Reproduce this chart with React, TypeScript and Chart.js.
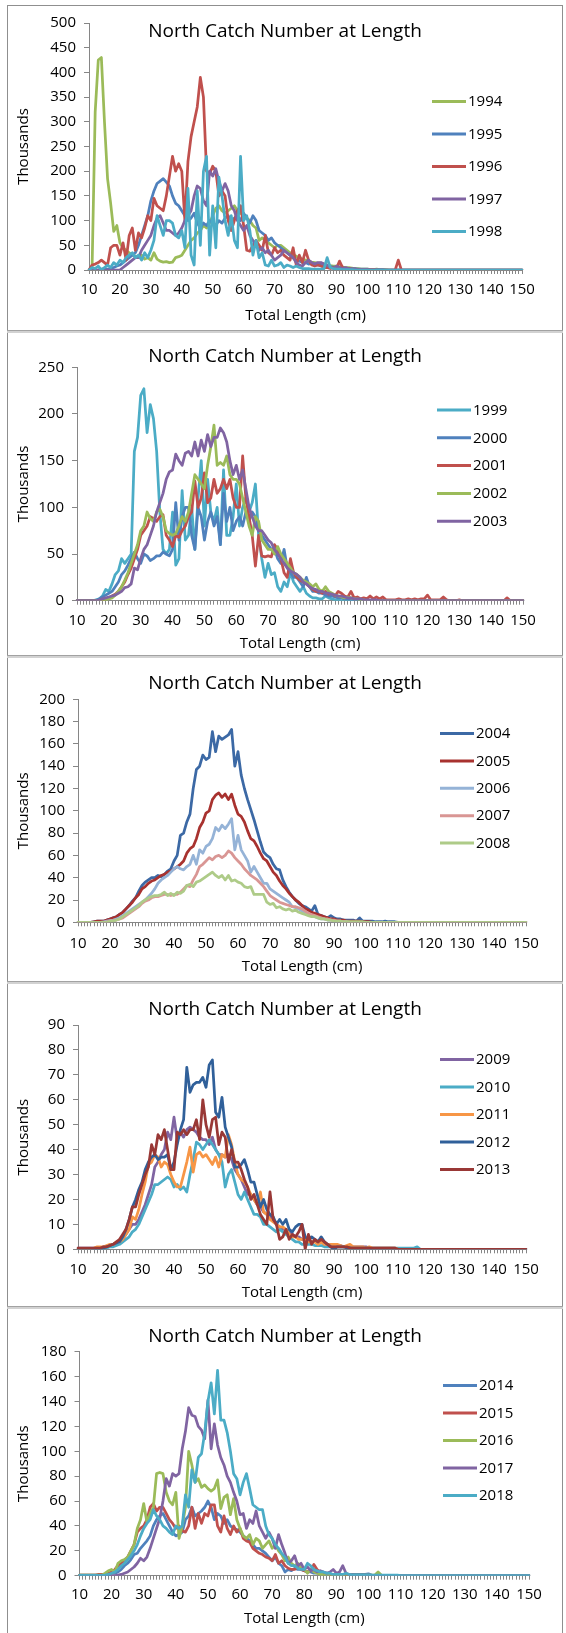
import React, { useEffect, useRef } from 'react';
import { Chart, registerables } from 'chart.js';

Chart.register(...registerables);

const FONT = "'Open Sans', 'DejaVu Sans', sans-serif";
const AXIS = '#868686';
const TITLE = 'North Catch Number at Length';
const X_TITLE = 'Total Length (cm)';
const Y_TITLE = 'Thousands';

// Length categories (cm)
const LENGTHS = [
  10, 11, 12, 13, 14, 15, 16, 17, 18, 19,
  20, 21, 22, 23, 24, 25, 26, 27, 28, 29,
  30, 31, 32, 33, 34, 35, 36, 37, 38, 39,
  40, 41, 42, 43, 44, 45, 46, 47, 48, 49,
  50, 51, 52, 53, 54, 55, 56, 57, 58, 59,
  60, 61, 62, 63, 64, 65, 66, 67, 68, 69,
  70, 71, 72, 73, 74, 75, 76, 77, 78, 79,
  80, 81, 82, 83, 84, 85, 86, 87, 88, 89,
  90, 91, 92, 93, 94, 95, 96, 97, 98, 99,
  100, 101, 102, 103, 104, 105, 106, 107, 108, 109,
  110, 111, 112, 113, 114, 115, 116, 117, 118, 119,
  120, 121, 122, 123, 124, 125, 126, 127, 128, 129,
  130, 131, 132, 133, 134, 135, 136, 137, 138, 139,
  140, 141, 142, 143, 144, 145, 146, 147, 148, 149,
  150,
];
const X_TICK_LABELS = [10, 20, 30, 40, 50, 60, 70, 80, 90, 100, 110, 120, 130, 140, 150];

const Y_MAX = [500, 250, 200, 90, 180];
const Y_STEP = [50, 50, 20, 10, 20];

// ---------- Panel 1 ----------
const YEARS_1 = ['1994', '1995', '1996', '1997', '1998'];
const N1994 = [
  0,5,320,425,430,300,185,135,78,90,
  55,45,40,35,30,28,25,30,22,25,
  20,35,22,18,16,17,15,16,25,27,
  30,40,50,60,65,75,80,90,85,95,
  110,125,130,120,115,120,125,130,120,115,
  110,105,100,90,85,60,65,60,55,50,
  45,50,50,45,40,35,30,28,25,22,
  20,18,16,15,14,14,12,10,9,8,
  8,7,6,5,5,4,3,3,2,2,
  2,1,1,2,1,1,1,0,0,0,
  0,0,0,0,0,0,0,0,0,0,
  0,0,0,0,0,0,0,0,0,0,
  0,0,0,0,0,0,0,0,0,0,
  0,0,0,0,0,0,0,0,0,0,
  0,
];
const N1995 = [
  0,0,0,0,2,3,2,3,5,8,
  10,15,20,25,30,35,50,70,90,110,
  140,160,175,180,185,178,170,150,135,130,
  120,110,100,105,115,95,85,95,90,100,
  95,90,100,95,105,110,100,105,110,100,
  115,105,95,110,100,80,75,70,60,65,
  55,50,45,40,35,30,25,20,18,15,
  15,12,14,12,10,10,8,8,7,6,
  5,5,4,4,3,3,3,2,2,2,
  2,1,1,1,1,1,0,0,0,0,
  0,0,0,0,0,0,0,0,0,0,
  0,0,0,0,0,0,0,0,0,0,
  0,0,0,0,0,0,0,0,0,0,
  0,0,0,0,0,0,0,0,0,0,
  0,
];
const N1996 = [
  0,10,12,15,20,15,10,45,50,50,
  30,55,20,70,85,40,75,65,85,110,
  100,145,130,125,120,150,190,230,200,215,
  200,100,220,270,300,330,390,350,200,195,
  210,200,150,160,150,100,80,100,120,130,
  90,40,38,50,60,50,40,70,35,30,
  45,35,40,30,25,20,45,10,30,15,
  40,20,10,8,10,8,5,5,3,5,
  3,18,5,3,3,2,2,1,1,1,
  1,1,1,0,0,0,0,0,0,0,
  20,0,0,0,0,0,0,0,0,0,
  0,0,0,0,0,0,0,0,0,0,
  0,0,0,0,0,0,0,0,0,0,
  0,0,0,0,0,0,0,0,0,0,
  0,
];
const N1997 = [
  0,0,0,0,0,0,0,0,0,0,
  0,5,10,15,20,25,25,40,50,60,
  70,90,105,110,95,80,80,75,70,75,
  85,100,110,120,150,170,165,140,130,200,
  190,205,180,160,175,160,130,120,100,90,
  80,90,70,60,50,40,45,35,40,30,
  20,25,30,40,35,30,25,15,10,8,
  15,20,15,12,15,15,12,10,5,3,
  8,5,3,5,3,2,2,1,1,1,
  1,0,0,0,0,0,0,0,0,0,
  0,0,0,0,0,0,0,0,0,0,
  0,0,0,0,0,0,0,0,0,0,
  0,0,0,0,0,0,0,0,0,0,
  0,0,0,0,0,0,0,0,0,0,
  0,
];
const N1998 = [
  0,5,3,8,0,5,10,5,15,10,
  20,15,25,30,35,25,30,20,35,25,
  40,60,110,90,70,100,100,95,70,65,
  80,45,165,30,10,160,50,200,230,30,
  130,45,188,150,100,70,110,60,45,230,
  100,110,80,30,60,25,35,10,8,20,
  8,10,15,5,10,8,5,8,5,3,
  3,3,2,2,2,2,3,25,5,3,
  2,2,1,1,1,1,0,0,0,0,
  0,0,0,0,0,0,0,0,0,0,
  0,0,0,0,0,0,0,0,0,0,
  0,0,0,0,0,0,0,0,0,0,
  0,0,0,0,0,0,0,0,0,0,
  0,0,0,0,0,0,0,0,0,0,
  0,
];

// ---------- Panel 2 ----------
const YEARS_2 = ['1999', '2000', '2001', '2002', '2003'];
const N1999 = [
  0,0,0,0,0,0,1,2,5,12,
  10,18,28,32,45,40,45,50,160,175,
  220,227,180,210,195,160,95,55,50,55,
  95,38,45,118,65,70,100,55,110,150,
  80,130,95,85,100,60,140,70,70,90,
  125,80,100,110,95,105,125,70,45,25,
  40,28,30,15,10,20,15,30,20,15,
  10,15,8,5,3,3,2,2,5,3,
  2,1,1,0,0,0,0,0,0,0,
  0,0,0,0,0,0,0,0,0,0,
  0,0,0,0,0,0,0,0,0,0,
  0,0,0,0,0,0,0,0,0,0,
  0,0,0,0,0,0,0,0,0,0,
  0,0,0,0,0,0,0,0,0,0,
  0,
];
const N2000 = [
  0,0,0,0,0,0,0,2,4,6,
  8,10,15,20,28,32,38,45,52,45,
  40,50,48,43,45,48,48,52,50,48,
  55,105,65,90,100,100,70,55,100,90,
  65,85,95,80,90,60,115,85,100,75,
  85,90,80,95,85,95,90,75,70,65,
  60,55,55,45,40,55,35,30,25,25,
  20,15,25,15,10,10,8,8,6,5,
  5,4,3,3,2,2,2,1,1,1,
  1,0,0,0,0,0,0,0,0,0,
  0,0,0,0,0,0,0,0,0,0,
  0,0,0,0,0,0,0,0,0,0,
  0,0,0,0,0,0,0,0,0,0,
  0,0,0,0,0,0,0,0,0,0,
  0,
];
const N2001 = [
  0,0,0,0,0,0,0,0,1,2,
  3,5,7,10,15,20,28,35,45,55,
  70,75,80,90,88,85,90,92,70,65,
  58,70,68,75,80,90,95,128,100,110,
  137,105,110,130,115,120,130,120,130,110,
  100,100,155,110,90,70,37,70,48,47,
  48,47,60,55,45,30,25,45,30,25,
  22,20,18,15,12,10,10,8,10,7,
  8,5,10,8,5,4,10,3,4,2,
  3,2,5,2,4,2,4,1,1,1,
  1,2,1,1,2,1,2,1,2,2,
  6,1,1,1,1,4,1,0,0,0,
  1,0,0,0,0,0,0,0,0,0,
  0,0,0,0,0,3,0,0,0,0,
  0,
];
const N2002 = [
  0,0,0,0,0,0,0,0,0,1,
  2,3,6,10,15,22,30,40,50,60,
  75,80,95,88,85,95,98,90,75,72,
  70,72,80,90,85,95,115,135,130,125,
  120,145,165,188,145,148,145,155,135,130,
  130,125,110,95,80,70,90,85,65,60,
  55,55,50,58,50,45,40,35,30,28,
  25,22,20,18,15,18,12,10,15,10,
  8,6,5,4,3,4,3,2,2,1,
  1,0,0,0,0,0,0,0,0,0,
  0,0,0,0,0,0,0,0,0,0,
  0,0,0,0,0,0,0,0,0,0,
  0,0,0,0,0,0,0,0,0,0,
  0,0,0,0,0,0,0,0,0,0,
  0,
];
const N2003 = [
  0,0,0,0,0,0,0,1,2,3,
  4,5,6,8,10,14,15,18,35,33,
  45,55,60,70,80,95,105,115,130,138,
  140,157,150,145,158,160,155,170,155,172,
  160,178,165,175,175,185,180,170,150,135,
  145,130,140,120,100,90,80,75,75,70,
  65,62,55,50,45,40,35,32,30,28,
  25,20,18,15,13,12,10,10,8,8,
  7,6,5,5,4,3,3,2,2,2,
  1,1,1,1,1,0,0,0,0,0,
  0,0,0,0,0,0,0,0,0,0,
  0,0,0,0,0,0,0,0,0,0,
  0,0,0,0,0,0,0,0,0,0,
  0,0,0,0,0,0,0,0,0,0,
  0,
];

// ---------- Panel 3 ----------
const YEARS_3 = ['2004', '2005', '2006', '2007', '2008'];
const N2004 = [
  0,0,0,0,0,0.5,1,1,1,2,
  3,4,5,7,9,12,15,19,22,28,
  33,36,38,40,40,42,41,43,46,48,
  55,60,78,80,90,97,120,137,140,150,
  146,148,171,153,167,164,166,168,173,140,
  153,132,120,110,101,92,82,72,63,60,
  58,52,48,47,38,32,27,23,20,17,
  15,14,12,10,15,7,6,5,4,6,
  4,3,3,2,2,2,2,1,4,1,
  1,1,1,0.5,0.5,0.5,1,0.5,0.5,0.5,
  0,0,0,0,0,0,0,0,0,0,
  0,0,0,0,0,0,0,0,0,0,
  0,0,0,0,0,0,0,0,0,0,
  0,0,0,0,0,0,0,0,0,0,
  0,
];
const N2005 = [
  0,0,0,0,0,0.5,1,1,1,2,
  3,4,5,7,9,12,15,18,22,25,
  30,32,35,37,38,40,42,43,45,46,
  48,50,52,55,62,66,68,75,85,90,
  98,100,110,114,116,112,115,110,115,105,
  97,95,90,82,75,73,68,62,57,55,
  50,45,42,37,33,30,26,23,20,18,
  15,12,11,9,8,7,6,5,4,3,
  3,2,2,2,1,1,1,1,1,0.5,
  0.5,0.5,0,0,0,0,0,0,0,0,
  0,0,0,0,0,0,0,0,0,0,
  0,0,0,0,0,0,0,0,0,0,
  0,0,0,0,0,0,0,0,0,0,
  0,0,0,0,0,0,0,0,0,0,
  0,
];
const N2006 = [
  0,0,0,0,0,0,0,0,0.5,1,
  1.5,2,3,4,6,8,10,12,14,16,
  18,20,23,26,30,35,38,40,42,45,
  48,50,48,47,50,52,60,52,65,62,
  68,70,75,85,82,87,84,88,93,65,
  78,65,60,55,45,50,45,40,35,35,
  30,28,26,24,22,20,18,14,13,12,
  10,9,8,6,5,4,3,3,2,2,
  1,1,1,0.5,0.5,0,0,0,0,0,
  0,0,0,0,0,0,0,0,0,0,
  0,0,0,0,0,0,0,0,0,0,
  0,0,0,0,0,0,0,0,0,0,
  0,0,0,0,0,0,0,0,0,0,
  0,0,0,0,0,0,0,0,0,0,
  0,
];
const N2007 = [
  0,0,0,0,0,0,0,0,0,0.5,
  1,1.5,2,3,4,6,8,10,12,14,
  17,19,20,22,23,23,24,25,25,24,
  25,25,27,30,33,32,38,43,50,52,
  55,58,56,59,60,58,60,64,62,58,
  55,52,48,45,42,40,38,35,32,28,
  24,22,20,18,17,16,15,14,14,13,
  12,10,8,7,6,5,4,3,3,2,
  2,1,1,0.5,0.5,0,0,0,0,0,
  0,0,0,0,0,0,0,0,0,0,
  0,0,0,0,0,0,0,0,0,0,
  0,0,0,0,0,0,0,0,0,0,
  0,0,0,0,0,0,0,0,0,0,
  0,0,0,0,0,0,0,0,0,0,
  0,
];
const N2008 = [
  0,0,0,0,0,0,0,0,0,0,
  1,1,2,3,5,7,9,11,13,15,
  18,20,22,23,24,24,25,27,24,26,
  24,27,26,28,33,34,32,36,37,39,
  41,43,45,42,40,42,38,42,37,38,
  36,35,32,31,32,25,25,25,25,18,
  16,17,13,14,12,11,12,10,11,9,
  8,7,6,5,5,4,3,3,2,2,
  1,1,1,0.5,0.5,0.5,0.5,0.5,0.5,0.5,
  0,0,0,0,0,0,0,0,0,0,
  0,0,0,0,0,0,0,0,0,0,
  0,0,0,0,0,0,0,0,0,0,
  0,0,0,0,0,0,0,0,0,0,
  0,0,0,0,0,0,0,0,0,0,
  0,
];

// ---------- Panel 4 ----------
const YEARS_4 = ['2009', '2010', '2011', '2012', '2013'];
const N2009 = [
  0.5,0.5,0.5,0.5,0.5,0.5,0.5,0.5,1,1,
  1.5,2,2.5,3,4,6,8,10,10,12,
  15,18,22,26,33,35,38,40,47,44,
  53,44,47,45,48,49,48,47,45,44,
  44,42,45,40,38,38,37,38,36,32,
  30,28,25,22,22,20,18,17,15,14,
  13,12,10,9,8,8,7,6,5,5,
  4,4,4,3,3,3,3,2,2,2,
  2,1.5,1.5,1,1,1,1,1,1,1,
  1,0.5,0.5,0.5,0.5,0.5,0.5,0.5,0.5,0.5,
  0,0,0,0,0,0,0,0,0,0,
  0,0,0,0,0,0,0,0,0,0,
  0,0,0,0,0,0,0,0,0,0,
  0,0,0,0,0,0,0,0,0,0,
  0,
];
const N2010 = [
  0,0,0,0,0,0,0,0,0,0.5,
  1,1,1.5,2,3,4,5,7,8,10,
  13,16,19,22,26,26,27,28,29,28,
  25,26,24,25,23,30,36,43,42,40,
  42,44,42,40,38,35,25,30,32,27,
  22,20,23,20,17,14,14,13,10,10,
  9,8,7,8,7,6,5,4,3,3,
  2,2,2,2,1.5,1.5,1.5,1,1,1,
  1,1,1,1,1,0.5,0.5,0.5,0.5,0.5,
  0.5,0.5,0.5,0.5,0.5,0.5,0.5,0.5,0.5,0.5,
  0.5,0.5,0.5,0.5,0.5,0.5,1,0,0,0,
  0,0,0,0,0,0,0,0,0,0,
  0,0,0,0,0,0,0,0,0,0,
  0,0,0,0,0,0,0,0,0,0,
  0,
];
const N2011 = [
  0.3,0.3,0.3,0.3,0.3,0.5,1,1,1,1.5,
  2,2,3,3,4,6,8,13,12,16,
  22,27,34,35,38,37,33,35,34,30,
  27,25,25,30,35,41,31,38,39,37,
  38,36,34,37,33,38,37,46,42,35,
  30,28,27,25,22,20,18,23,15,14,
  12,11,10,9,9,8,6,5,5,4,
  4,4,3,3,3,2,3,2,2,2,
  2,2,1.5,1,1.5,2,1,1,1,1,
  0.5,1,0.5,0.5,0.5,0.5,0.5,0.5,0.5,0.5,
  0,0,0,0,0,0,0,0,0,0,
  0,0,0,0,0,0,0,0,0,0,
  0,0,0,0,0,0,0,0,0,0,
  0,0,0,0,0,0,0,0,0,0,
  0,
];
const N2012 = [
  0.3,0.3,0.3,0.3,0.3,0.3,0.3,0.3,0.5,1,
  1.5,2,2.5,3,5,8,12,17,20,24,
  27,32,35,37,38,36,37,37,38,32,
  35,42,48,52,73,63,66,67,67,69,
  65,74,76,55,53,61,49,45,41,33,
  33,34,36,32,27,27,22,17,20,16,
  14,13,10,12,10,12,8,7,9,10,
  10,5,4,5,4,3,5,3,2,1,
  0,1,1,1,0.5,0.5,0.5,0.5,0.5,0.5,
  0.5,0.5,0,0,0,0,0,0,0,0,
  0,0,0,0,0,0,0,0,0,0,
  0,0,0,0,0,0,0,0,0,0,
  0,0,0,0,0,0,0,0,0,0,
  0,0,0,0,0,0,0,0,0,0,
  0,
];
const N2013 = [
  0.5,0.5,0.5,0.5,0.5,0.5,0.5,0.5,1,1,
  1.5,2,3,4,6,8,12,17,17,22,
  26,30,33,42,38,46,44,48,40,32,
  32,47,46,48,46,48,48,52,44,60,
  50,45,52,53,42,47,45,35,40,35,
  35,32,28,25,20,22,18,14,12,10,
  23,12,10,4,5,8,4,6,5,7,
  10,0,6,2,4,3,4,3,2,1,
  1,1,1,1,1,0.5,0.5,0.5,0.5,0.5,
  0.5,0.5,0.5,0.5,0.5,0.5,0.5,0.5,0.5,0.5,
  0,0,0,0,0,0,0,0,0,0,
  0,0,0,0,0,0,0,0,0,0,
  0,0,0,0,0,0,0,0,0,0,
  0,0,0,0,0,0,0,0,0,0,
  0,
];

// ---------- Panel 5 ----------
const YEARS_5 = ['2014', '2015', '2016', '2017', '2018'];
const N2014 = [
  0.5,0.5,0.5,0.5,0.5,0.5,0.5,0.5,1,1,
  2,2,3,5,8,10,13,17,18,22,
  25,28,32,40,45,48,50,45,40,35,
  32,33,35,45,48,55,48,50,52,55,
  60,55,45,50,48,42,45,40,38,37,
  35,32,30,28,25,22,22,20,18,15,
  12,15,10,8,3,5,4,6,5,5,
  4,3,3,2,2,2,2,1,1,1,
  1,1,1,1,1,1,1,1,1,1,
  1.5,0.5,0,0,0,0,0,0,0,0,
  0,0,0,0,0,0,0,0,0,0,
  0,0,0,0,0,0,0,0,0,0,
  0,0,0,0,0,0,0,0,0,0,
  0,0,0,0,0,0,0,0,0,0,
  0,
];
const N2015 = [
  0.5,0.5,0.5,0.5,0.5,0.5,1,1,1,2,
  3,5,8,10,12,15,20,25,35,38,
  40,45,55,58,52,55,55,50,45,42,
  38,40,36,35,40,55,38,50,42,50,
  48,57,57,40,35,48,38,33,40,35,
  38,30,28,27,22,20,18,17,15,14,
  12,17,10,12,8,6,5,5,7,5,
  4,3,4,9,5,3,2,2,1,1,
  1,1,0.5,0,0,0,0,0,0,0,
  0,0,0,0,0,0,0,0,0,0,
  0,0,0,0,0,0,0,0,0,0,
  0,0,0,0,0,0,0,0,0,0,
  0,0,0,0,0,0,0,0,0,0,
  0,0,0,0,0,0,0,0,0,0,
  0,
];
const N2016 = [
  0.5,0.5,0.5,0.5,0.5,0.5,0.5,0.5,2,4,
  5,3,10,12,13,15,20,25,38,45,
  58,43,50,55,82,83,82,67,60,57,
  67,30,40,55,100,89,75,78,71,73,
  70,68,70,77,54,63,65,49,62,45,
  38,32,30,33,25,30,28,22,25,28,
  22,25,20,17,12,15,10,8,10,6,
  5,2,5,3,2,1,1,1,1,1,
  1,1,1,1,1,0.5,0.5,0.5,0.5,0.5,
  0.5,0.5,0.5,3,0.5,0,0,0,0,0,
  0,0,0,0,0,0,0,0,0,0,
  0,0,0,0,0,0,0,0,0,0,
  0,0,0,0,0,0,0,0,0,0,
  0,0,0,0,0,0,0,0,0,0,
  0,
];
const N2017 = [
  0,0,0,0,0,0,0,0,0,0,
  0,0,0.5,1,2,3,5,7,10,14,
  12,15,22,30,38,46,60,78,72,82,
  80,82,102,116,135,129,128,120,117,110,
  141,102,122,105,95,89,80,75,67,60,
  49,50,38,45,42,52,40,35,30,35,
  30,22,33,25,18,10,12,16,8,10,
  5,7,4,5,3,4,3,2,3,5,
  2,3,8,2,1,0.5,0,0,0,0,
  0,0,0,0,0,0,0,0,0,0,
  0,0,0,0,0,0,0,0,0,0,
  0,0,0,0,0,0,0,0,0,0,
  0,0,0,0,0,0,0,0,0,0,
  0,0,0,0,0,0,0,0,0,0,
  0,
];
const N2018 = [
  0.3,0.3,0.3,0.3,0.3,0.3,0.3,0.3,0.5,1,
  2,3,5,8,10,13,16,20,25,32,
  38,42,45,53,48,45,40,38,35,33,
  40,38,40,65,55,85,75,95,98,115,
  140,155,130,165,125,125,115,100,82,78,
  65,75,82,70,57,55,53,53,40,33,
  30,25,22,18,15,10,8,8,6,5,
  5,10,8,5,4,3,3,2,2,1,
  1,1,1,2,1,0.5,0.5,0.5,0.5,0.5,
  0.5,0.5,0.5,0.5,0.5,0.5,0.5,0.5,0.5,0.5,
  0,0,0,0,0,0,0,0,0,0,
  0,0,0,0,0,0,0,0,0,0,
  0,0,0,0,0,0,0,0,0,0,
  0,0,0,0,0,0,0,0,0,0,
  0,
];

const COLORS_1 = ['#9BBB59', '#4F81BD', '#C0504D', '#8064A2', '#4BACC6'];
const COLORS_2 = ['#4BACC6', '#4F81BD', '#C0504D', '#9BBB59', '#8064A2'];
const COLORS_3 = ['#3C69A5', '#A8322F', '#95B3D7', '#D99694', '#AECB88'];
const COLORS_4 = ['#8064A2', '#4BACC6', '#F79646', '#30609A', '#993836'];
const COLORS_5 = ['#4F81BD', '#C0504D', '#9BBB59', '#8064A2', '#4BACC6'];

type PanelDef = {
  boxTop: number; boxH: number;
  yMax: number; yStep: number;
  years: string[]; series: number[][]; colors: string[];
  axisX: number; lastX: number; plotTop: number; plotBottom: number;
  xLabelY: number; xTitleY: number; yTitleX: number; titleY: number;
  legendX: number; legendY: number; legendGap: number;
};

const CANVAS_W = 554;

const PANELS: PanelDef[] = [
  { boxTop: 6, boxH: 324, yMax: Y_MAX[0], yStep: Y_STEP[0], years: YEARS_1,
    series: [N1994, N1995, N1996, N1997, N1998], colors: COLORS_1,
    axisX: 81, lastX: 514, plotTop: 16.3, plotBottom: 264, xLabelY: 283.3, xTitleY: 309.5,
    yTitleX: 16, titleY: 25.5, legendX: 424, legendY: 95.5, legendGap: 32.5 },
  { boxTop: 333, boxH: 322, yMax: Y_MAX[1], yStep: Y_STEP[1], years: YEARS_2,
    series: [N1999, N2000, N2001, N2002, N2003], colors: COLORS_2,
    axisX: 69, lastX: 515, plotTop: 34.3, plotBottom: 267.7, xLabelY: 288, xTitleY: 310.7,
    yTitleX: 16, titleY: 23.8, legendX: 429, legendY: 77, legendGap: 27.8 },
  { boxTop: 658, boxH: 323, yMax: Y_MAX[2], yStep: Y_STEP[2], years: YEARS_3,
    series: [N2004, N2005, N2006, N2007, N2008], colors: COLORS_3,
    axisX: 70, lastX: 518, plotTop: 41.3, plotBottom: 264.3, xLabelY: 285.3, xTitleY: 308.7,
    yTitleX: 16, titleY: 25.8, legendX: 432, legendY: 75.5, legendGap: 27.4 },
  { boxTop: 984, boxH: 322, yMax: Y_MAX[3], yStep: Y_STEP[3], years: YEARS_4,
    series: [N2009, N2010, N2011, N2012, N2013], colors: COLORS_4,
    axisX: 70, lastX: 518, plotTop: 41, plotBottom: 265.3, xLabelY: 285.3, xTitleY: 308.3,
    yTitleX: 16, titleY: 25.8, legendX: 432, legendY: 75.5, legendGap: 27.5 },
  { boxTop: 1309, boxH: 324, yMax: Y_MAX[4], yStep: Y_STEP[4], years: YEARS_5,
    series: [N2014, N2015, N2016, N2017, N2018], colors: COLORS_5,
    axisX: 71.5, lastX: 521, plotTop: 42.7, plotBottom: 266.7, xLabelY: 286, xTitleY: 309.3,
    yTitleX: 16, titleY: 27.2, legendX: 435, legendY: 76.5, legendGap: 27.5 },
];

const SEPARATORS = [330, 655, 981, 1306];

function Panel({ def }: { def: PanelDef }) {
  const ref = useRef<HTMLCanvasElement>(null);
  useEffect(() => {
    const canvas = ref.current;
    if (!canvas) return;
    const W = CANVAS_W;
    const H = def.boxH;
    const fs = 15;
    const lh = fs * 1.2;
    const titleSize = 19;
    const titleLh = titleSize * 1.2;
    const tickFont = { family: FONT, size: fs };

    const placer = {
      id: 'placer',
      afterLayout(chart: any) {
        const t = chart.titleBlock;
        if (t) {
          t.left = 0; t.right = chart.width; t.width = chart.width;
          t.top = def.titleY - titleLh / 2; t.height = titleLh; t.bottom = t.top + titleLh;
        }
      },
      afterDatasetsDraw(chart: any) {
        const ctx = chart.ctx;
        ctx.save();
        ctx.font = `${fs}px ${FONT}`;
        ctx.textBaseline = 'middle';
        ctx.textAlign = 'left';
        chart.data.datasets.forEach((ds: any, i: number) => {
          const y = def.legendY + i * def.legendGap;
          ctx.strokeStyle = ds.borderColor;
          ctx.lineWidth = 3;
          ctx.lineCap = 'butt';
          ctx.beginPath();
          ctx.moveTo(def.legendX, y);
          ctx.lineTo(def.legendX + 34, y);
          ctx.stroke();
          ctx.fillStyle = '#000';
          ctx.fillText(ds.label, def.legendX + 36, y + 0.5);
        });
        ctx.restore();
      },
    };

    const chart = new Chart(canvas, {
      type: 'line',
      data: {
        labels: LENGTHS,
        datasets: def.series.map((s, i) => ({
          label: def.years[i],
          data: s,
          borderColor: def.colors[i],
          backgroundColor: def.colors[i],
          borderWidth: 2.75,
          pointRadius: 0,
          pointHoverRadius: 0,
          tension: 0,
          fill: false,
          borderJoinStyle: 'round',
          borderCapStyle: 'round',
          order: -i,
        })),
      },
      options: {
        animation: false,
        responsive: false,
        maintainAspectRatio: false,
        devicePixelRatio: 1,
        events: [],
        layout: { padding: { left: 0, right: W - def.lastX, top: def.plotTop, bottom: 0 } },
        scales: {
          x: {
            type: 'category',
            offset: false,
            grid: { display: true, drawOnChartArea: false, drawTicks: true, tickLength: 4, color: AXIS, offset: false },
            border: { display: true, color: AXIS, width: 1 },
            ticks: {
              autoSkip: false, maxRotation: 0, minRotation: 0, color: '#000', font: tickFont,
              padding: def.xLabelY - def.plotBottom - 4 - lh / 2,
              callback: (_v: any, i: number) => (X_TICK_LABELS.includes(LENGTHS[i]) ? String(LENGTHS[i]) : ''),
            },
            title: {
              display: true, text: X_TITLE, color: '#000', font: tickFont,
              padding: { top: 0, bottom: H - def.xTitleY - lh / 2 },
            },
            afterFit: (s: any) => { s.height = H - def.plotBottom; },
          },
          y: {
            type: 'linear',
            min: 0,
            max: def.yMax,
            grid: { display: true, drawOnChartArea: false, drawTicks: true, tickLength: 5, color: AXIS },
            border: { display: true, color: AXIS, width: 1 },
            ticks: { stepSize: def.yStep, color: '#000', font: tickFont, padding: 8 },
            title: {
              display: true, text: Y_TITLE, color: '#000', font: tickFont,
              padding: { top: def.yTitleX - lh / 2, bottom: 0 },
            },
            afterFit: (s: any) => { s.width = def.axisX; },
          },
        },
        plugins: {
          title: {
            display: true, text: TITLE, color: '#000',
            font: { family: FONT, size: titleSize, weight: 'normal' },
            padding: { top: 0, bottom: -titleLh },
          },
          legend: { display: false },
          tooltip: { enabled: false },
        },
      } as any,
      plugins: [placer],
    });
    return () => chart.destroy();
  }, [def]);

  return <canvas ref={ref} width={CANVAS_W} height={def.boxH} style={{ display: 'block', width: CANVAS_W, height: def.boxH }} />;
}

export default function App() {
  return (
    <div style={{ position: 'absolute', left: 0, top: 0, width: 566, height: 1633, background: '#fff', overflow: 'hidden' }}>
      <div style={{ position: 'absolute', left: 7, top: 5, width: 556, height: 1, background: '#8f8f8f' }} />
      {PANELS.map((d, i) => (
        <div key={i} style={{ position: 'absolute', left: 7, top: d.boxTop, width: CANVAS_W, height: d.boxH,
          borderLeft: '1px solid #8f8f8f', borderRight: '1px solid #8f8f8f' }}>
          <Panel def={d} />
        </div>
      ))}
      {SEPARATORS.map((y, i) => (
        <div key={'s' + i} style={{ position: 'absolute', left: 7, top: y, width: 556, height: 2,
          borderTop: '1px solid #a2a2a2', background: '#d2d2d2' }} />
      ))}
    </div>
  );
}
